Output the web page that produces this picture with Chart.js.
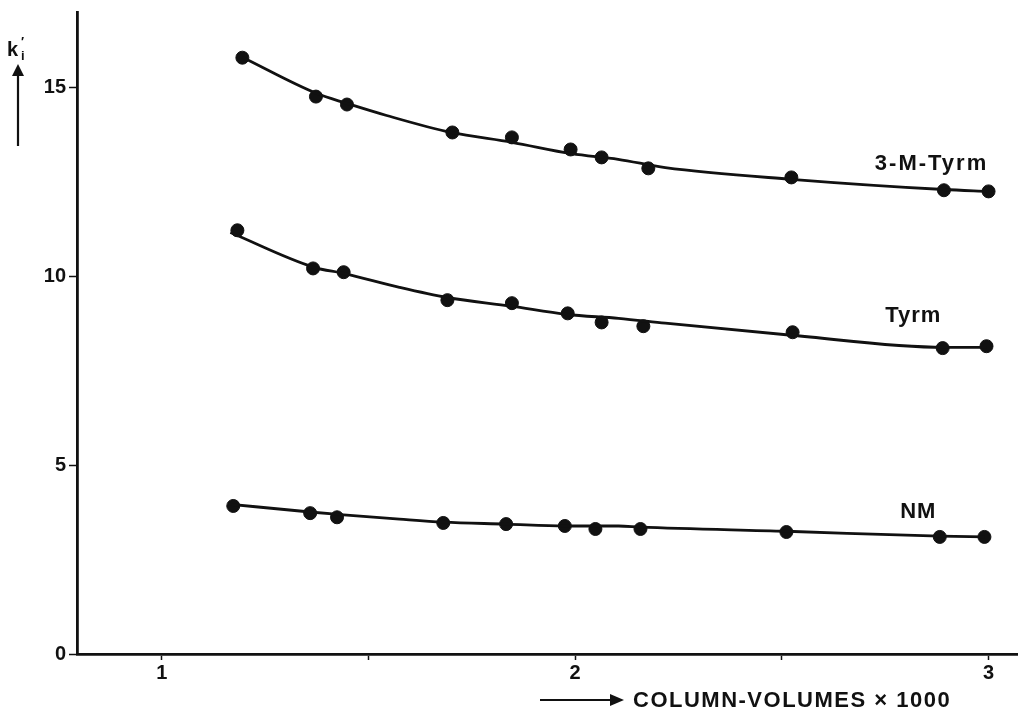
<!DOCTYPE html>
<html>
<head>
<meta charset="utf-8">
<script src="https://cdn.jsdelivr.net/npm/chart.js@4.4.1/dist/chart.umd.min.js"></script>
<style>
    body { margin: 0; background: #fff; }
    #wrap { width: 1025px; height: 717px; }
</style>
</head>
<body>
<div id="wrap"><canvas id="kChart" width="1025" height="717"></canvas></div>
<script>
// Measured points (column-volumes x 1000 vs k'i)
const volTyrm3M = [1.195, 1.373, 1.448, 1.703, 1.847, 1.989, 2.064, 2.177, 2.523, 2.892, 3.0];
const kTyrm3M   = [15.79, 14.76, 14.55, 13.81, 13.68, 13.36, 13.15, 12.86, 12.62, 12.28, 12.25];

const volTyrm = [1.183, 1.366, 1.440, 1.691, 1.847, 1.982, 2.064, 2.165, 2.526, 2.889, 2.995];
const kTyrm   = [11.22, 10.21, 10.11, 9.37, 9.29, 9.02, 8.78, 8.68, 8.52, 8.10, 8.15];

const volNM = [1.173, 1.359, 1.424, 1.681, 1.833, 1.975, 2.049, 2.158, 2.511, 2.882, 2.990];
const kNM   = [3.92, 3.73, 3.62, 3.47, 3.44, 3.39, 3.31, 3.31, 3.23, 3.10, 3.10];

// Drawn fitted curves
const fitVolTyrm3M = [1.195, 1.375, 1.448, 1.544, 1.700, 1.847, 1.991, 2.104, 2.218, 2.523, 2.892, 3.0];
const fitKTyrm3M   = [15.80, 14.84, 14.58, 14.26, 13.81, 13.55, 13.25, 13.10, 12.88, 12.57, 12.30, 12.25];

const fitVolTyrm = [1.166, 1.368, 1.440, 1.575, 1.691, 1.845, 1.980, 2.105, 2.218, 2.523, 2.892, 2.995];
const fitKTyrm   = [11.16, 10.24, 10.08, 9.71, 9.44, 9.21, 8.99, 8.89, 8.76, 8.44, 8.12, 8.12];

const fitVolNM = [1.161, 1.359, 1.424, 1.575, 1.681, 1.833, 1.975, 2.105, 2.158, 2.511, 2.882, 2.990];
const fitKNM   = [3.97, 3.76, 3.70, 3.57, 3.49, 3.44, 3.39, 3.39, 3.36, 3.25, 3.12, 3.10];

// Axis ticks
const xTicks = [1, 1.5, 2, 2.5, 3];
const xTickLabels = ['1', '', '2', '', '3'];
const yTicks = [0, 5, 10, 15];

const seriesNames = ['3-M-Tyrm', 'Tyrm', 'NM'];

const FONT = '"Liberation Sans", Arial, Helvetica, sans-serif';

const toPoints = (xs, ys) => xs.map((x, i) => ({ x: x, y: ys[i] }));

const pointSet = (label, xs, ys) => ({
    type: 'scatter',
    label: label,
    data: toPoints(xs, ys),
    pointRadius: 6.5,
    pointHoverRadius: 6.5,
    backgroundColor: '#111',
    borderColor: '#111',
    borderWidth: 1,
    showLine: false,
});

const fitSet = (label, xs, ys) => ({
    type: 'line',
    label: label + ' fit',
    data: toPoints(xs, ys),
    borderColor: '#111',
    borderWidth: 2.8,
    pointRadius: 0,
    fill: false,
    cubicInterpolationMode: 'monotone',
});

// Labels next to the curves and the axis captions
const annotations = {
    id: 'annotations',
    afterDraw(chart) {
        const ctx = chart.ctx;
        const xs = chart.scales.x;
        const ys = chart.scales.y;
        ctx.save();
        ctx.fillStyle = '#111';
        ctx.strokeStyle = '#111';

        // curve names
        ctx.font = 'bold 22px ' + FONT;
        ctx.textAlign = 'center';
        ctx.textBaseline = 'middle';
        const spots = [[2.862, 12.97], [2.818, 8.95], [2.83, 3.75]];
        seriesNames.forEach((name, i) => {
            ctx.letterSpacing = i === 0 ? '2px' : '1px';
            ctx.fillText(name, xs.getPixelForValue(spots[i][0]), ys.getPixelForValue(spots[i][1]));
        });
        ctx.letterSpacing = '0px';

        // y caption: k'i with upward arrow
        ctx.textAlign = 'left';
        ctx.textBaseline = 'alphabetic';
        ctx.font = 'bold 20px ' + FONT;
        ctx.fillText('k', 7, 56);
        ctx.font = 'bold 13px ' + FONT;
        ctx.fillText('\u2032', 21, 46);
        ctx.fillText('i', 21, 60);
        ctx.lineWidth = 2.2;
        ctx.beginPath();
        ctx.moveTo(18, 146);
        ctx.lineTo(18, 74);
        ctx.stroke();
        ctx.beginPath();
        ctx.moveTo(12, 76);
        ctx.lineTo(24, 76);
        ctx.lineTo(18, 64);
        ctx.closePath();
        ctx.fill();

        // x caption with right arrow
        ctx.lineWidth = 2;
        ctx.beginPath();
        ctx.moveTo(540, 700);
        ctx.lineTo(614, 700);
        ctx.stroke();
        ctx.beginPath();
        ctx.moveTo(610, 694);
        ctx.lineTo(624, 700);
        ctx.lineTo(610, 706);
        ctx.closePath();
        ctx.fill();
        ctx.font = 'bold 22px ' + FONT;
        ctx.letterSpacing = '1.5px';
        ctx.textBaseline = 'middle';
        ctx.fillText('COLUMN-VOLUMES \u00d7 1000', 633, 701);
        ctx.restore();
    },
};

const renderChart = () => {
    const ctx = document.getElementById('kChart').getContext('2d');

    new Chart(ctx, {
        type: 'scatter',
        data: {
            datasets: [
                fitSet(seriesNames[0], fitVolTyrm3M, fitKTyrm3M),
                fitSet(seriesNames[1], fitVolTyrm, fitKTyrm),
                fitSet(seriesNames[2], fitVolNM, fitKNM),
                pointSet(seriesNames[0], volTyrm3M, kTyrm3M),
                pointSet(seriesNames[1], volTyrm, kTyrm),
                pointSet(seriesNames[2], volNM, kNM),
            ],
        },
        options: {
            responsive: false,
            animation: false,
            layout: { padding: { top: 12, right: 3, left: 0, bottom: 0 } },
            plugins: {
                legend: { display: false },
                tooltip: { enabled: false },
            },
            scales: {
                x: {
                    type: 'linear',
                    min: 0.795,
                    max: 3.07,
                    afterFit: (scale) => {
                        scale.height = 63;
                        scale.paddingLeft = 0;
                        scale.paddingRight = 0;
                    },
                    afterBuildTicks: (scale) => {
                        scale.ticks = xTicks.map(v => ({ value: v }));
                    },
                    border: { display: true, color: '#111', width: 2.8 },
                    grid: {
                        drawOnChartArea: false,
                        drawTicks: true,
                        tickLength: 6,
                        tickColor: '#111',
                        tickWidth: 1.5,
                    },
                    ticks: {
                        color: '#111',
                        font: { family: FONT, size: 20, weight: 'bold' },
                        padding: 1,
                        maxRotation: 0,
                        autoSkip: false,
                        callback: (value, index) => xTickLabels[index],
                    },
                },
                y: {
                    min: 0,
                    max: 17,
                    afterFit: (scale) => {
                        scale.width = 77;
                        scale.paddingTop = 0;
                        scale.paddingBottom = 0;
                    },
                    afterBuildTicks: (scale) => {
                        scale.ticks = yTicks.map(v => ({ value: v }));
                    },
                    border: { display: true, color: '#111', width: 2.8 },
                    grid: {
                        drawOnChartArea: false,
                        drawTicks: true,
                        tickLength: 8,
                        tickColor: '#111',
                        tickWidth: 1.5,
                    },
                    ticks: {
                        color: '#111',
                        font: { family: FONT, size: 20, weight: 'bold' },
                        padding: 3,
                        autoSkip: false,
                    },
                },
            },
        },
        plugins: [annotations],
    });
};

document.addEventListener('DOMContentLoaded', renderChart);
</script>
</body>
</html>
